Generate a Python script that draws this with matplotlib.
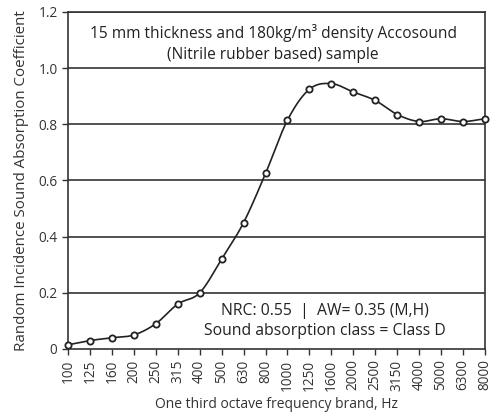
import numpy as np
import matplotlib
matplotlib.use("Agg")
import matplotlib.pyplot as plt

plt.rcParams['font.family'] = ['Open Sans', 'DejaVu Sans']

freqs = ["100", "125", "160", "200", "250", "315", "400", "500", "630", "800",
         "1000", "1250", "1600", "2000", "2500", "3150", "4000", "5000", "6300", "8000"]
alpha = [0.015, 0.03, 0.04, 0.05, 0.09, 0.16, 0.20, 0.32, 0.45, 0.625,
         0.815, 0.925, 0.945, 0.915, 0.885, 0.835, 0.81, 0.82, 0.81, 0.82]
yticks = [0, 0.2, 0.4, 0.6, 0.8, 1.0, 1.2]
ylabels = ["0", "0.2", "0.4", "0.6", "0.8", "1.0", "1.2"]


def catmull_rom(x, y, n=20):
    x = np.asarray(x, float); y = np.asarray(y, float)
    px = np.concatenate([[2*x[0]-x[1]], x, [2*x[-1]-x[-2]]])
    py = np.concatenate([[2*y[0]-y[1]], y, [2*y[-1]-y[-2]]])
    xs, ys = [], []
    t = np.linspace(0, 1, n, endpoint=False)
    for i in range(1, len(px)-2):
        for arr, out in ((px, xs), (py, ys)):
            p0, p1, p2, p3 = arr[i-1], arr[i], arr[i+1], arr[i+2]
            out.extend(0.5*((2*p1) + (-p0+p2)*t + (2*p0-5*p1+4*p2-p3)*t**2 + (-p0+3*p1-3*p2+p3)*t**3))
    xs.append(x[-1]); ys.append(y[-1])
    return np.array(xs), np.array(ys)


fig = plt.figure(figsize=(5.02, 4.12), dpi=100)
ax = fig.add_axes([68/502, 1-349/412, (485-68)/502, (349-12)/412])

idx = np.arange(len(freqs))
sx, sy = catmull_rom(idx, alpha)
ax.plot(sx, sy, color='#222222', lw=1.2, zorder=3, clip_on=False)
ax.plot(idx, alpha, ls='none', marker='o', ms=4.5, mfc='white', mec='#222222', mew=1.3, zorder=4, clip_on=False)

ax.set_xlim(0, len(freqs)-1)
ax.set_ylim(0, 1.2)
ax.set_yticks(yticks)
ax.set_yticklabels(ylabels)
ax.set_xticks(idx)
ax.set_xticklabels(freqs, rotation=90)
for y in yticks[1:]:
    ax.axhline(y, color='#333333', lw=1.2, zorder=1)
for s in ax.spines.values():
    s.set_color('#333333'); s.set_linewidth(1.2)
ax.tick_params(axis='both', direction='out', length=4, width=1.0, color='#333333',
               labelsize=9.8, labelcolor='#333333')
ax.set_ylabel("Random Incidence Sound Absorption Coefficient", fontsize=10.9, color='#333333', labelpad=7)
ax.set_xlabel("One third octave frequency brand, Hz", fontsize=10, color='#333333', labelpad=5)

ax.text(9.35, 1.088, "15 mm thickness and 180kg/m\u00b3 density Accosound\n(Nitrile rubber based) sample",
        ha='center', va='center', fontsize=11.2, color='#222222', linespacing=1.4)
ax.text(11.7, 0.10, "NRC: 0.55  |  AW= 0.35 (M,H)\nSound absorption class = Class D",
        ha='center', va='center', fontsize=11.3, color='#222222', linespacing=1.4)

fig.savefig("out.png", dpi=100)
